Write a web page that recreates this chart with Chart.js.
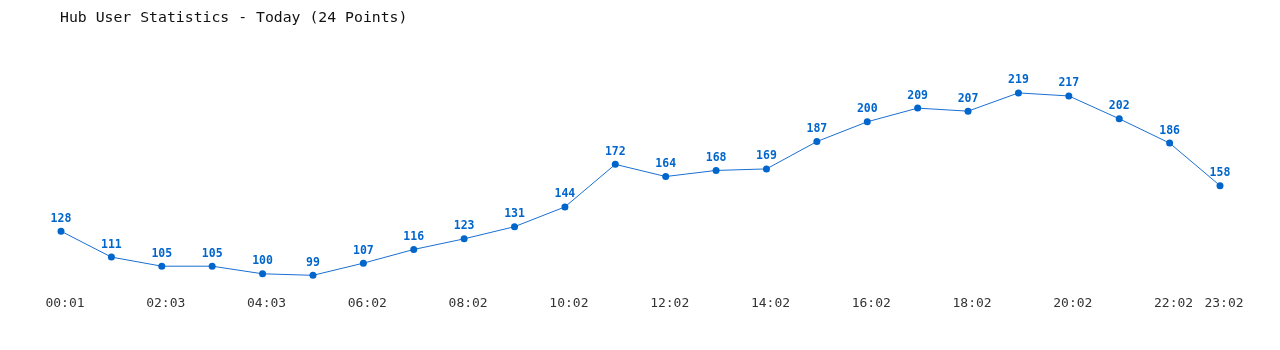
<!DOCTYPE html>
<html>
<head>
<meta charset="utf-8">
<script src="https://cdn.jsdelivr.net/npm/chart.js@4/dist/chart.umd.min.js"></script>
<style>
html,body{margin:0;padding:0;background:#fff;}
canvas{display:block;}
</style>
</head>
<body>
<canvas id="c" width="1280" height="350"></canvas>
<script>
const titleText = 'Hub User Statistics - Today (24 Points)';
const times = ['00:01','01:02','02:03','03:03','04:03','05:02','06:02','07:02','08:02','09:02','10:02','11:02','12:02','13:02','14:02','15:02','16:02','17:02','18:02','19:02','20:02','21:02','22:02','23:02'];
const shownTicks = ['00:01','02:03','04:03','06:02','08:02','10:02','12:02','14:02','16:02','18:02','20:02','22:02','23:02'];
const users = [128,111,105,105,100,99,107,116,123,131,144,172,164,168,169,187,200,209,207,219,217,202,186,158];

const MONO = '"DejaVu Sans Mono", "Liberation Mono", monospace';

const extras = {
  id: 'extras',
  afterDatasetsDraw(chart) {
    const ctx = chart.ctx;
    ctx.save();
    ctx.fillStyle = '#111';
    ctx.font = '14.8px ' + MONO;
    ctx.textAlign = 'left';
    ctx.textBaseline = 'middle';
    ctx.fillText(titleText, 60, 18.5);
    const meta = chart.getDatasetMeta(0);
    ctx.fillStyle = '#0066cc';
    ctx.font = 'bold 11.5px ' + MONO;
    ctx.textAlign = 'center';
    ctx.textBaseline = 'middle';
    meta.data.forEach((pt, i) => {
      ctx.fillText(String(users[i]), pt.x, pt.y - 12.5);
    });
    ctx.restore();
  }
};

new Chart(document.getElementById('c'), {
  type: 'line',
  data: {
    labels: times,
    datasets: [{
      data: users,
      borderColor: '#1a6fd0',
      borderWidth: 1,
      backgroundColor: '#0066cc',
      pointBackgroundColor: '#0066cc',
      pointBorderColor: '#0066cc',
      pointRadius: 3.5,
      pointBorderWidth: 0,
      tension: 0,
      fill: false
    }]
  },
  options: {
    responsive: false,
    animation: false,
    events: [],
    layout: { padding: { left: 61, right: 60, top: 61, bottom: 32.4 } },
    plugins: { legend: { display: false }, title: { display: false }, tooltip: { enabled: false } },
    scales: {
      x: {
        offset: false,
        grid: { display: false, drawTicks: false },
        border: { display: false },
        ticks: {
          autoSkip: false,
          maxRotation: 0,
          padding: 6.5,
          labelOffset: 4,
          color: '#333',
          font: { family: MONO, size: 13 },
          callback: function(v, i) {
            const t = times[i];
            return shownTicks.includes(t) ? t : '';
          }
        }
      },
      y: {
        display: false,
        min: 90,
        max: 240
      }
    }
  },
  plugins: [extras]
});
</script>
</body>
</html>
